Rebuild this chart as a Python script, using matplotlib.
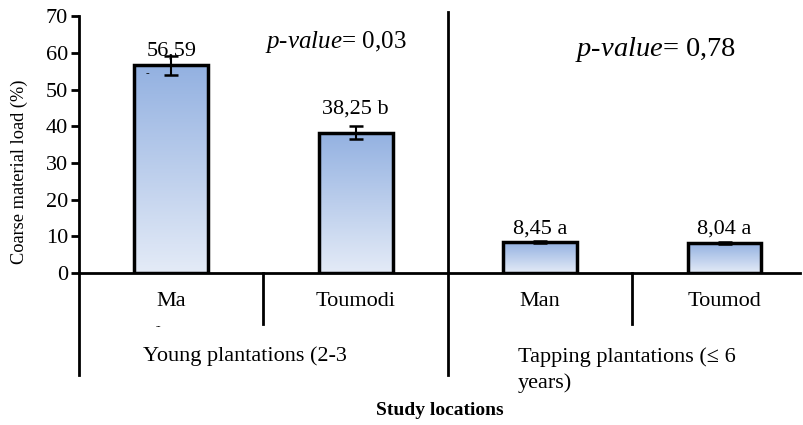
import matplotlib.pyplot as plt
import numpy as np
from matplotlib.colors import LinearSegmentedColormap

plt.rcParams['font.family'] = ['Liberation Serif', 'DejaVu Serif']
plt.rcParams['mathtext.fontset'] = 'custom'
plt.rcParams['mathtext.rm'] = 'Liberation Serif'
plt.rcParams['mathtext.it'] = 'Liberation Serif:italic'

sites = ["Ma", "Toumodi", "Man", "Toumod"]
load = [56.59, 38.25, 8.45, 8.04]
load_err = [2.6, 1.8, 0.3, 0.3]
bar_labels = ["56,59", "38,25 b", "8,45 a", "8,04 a"]
groups = ["Young plantations (2-3", "Tapping plantations (\u2264 6\nyears)"]
pvals = ["0,03", "0,78"]

fig = plt.figure(figsize=(8.04, 4.25), dpi=100)
ax = fig.add_axes([0.0983, 0.358, 0.897, 0.6035])

x = np.arange(len(sites))
w = 0.4
bars = ax.bar(x, load, width=w, color='none', edgecolor='black', linewidth=2.5, zorder=3)

# gradient fill inside bars
grad = np.linspace(0, 1, 256).reshape(-1, 1)
cmap = LinearSegmentedColormap.from_list("blu", ["#e4ebf7", "#93b1e1"])
for b in bars:
    bx = b.get_x()
    im = ax.imshow(grad, cmap=cmap, aspect='auto', origin='lower',
                   extent=[bx, bx + b.get_width(), 0, b.get_height()], zorder=2)
    im.set_clip_path(b)

ax.errorbar(x, load, yerr=load_err, fmt='none', ecolor='black', elinewidth=1.5,
            capsize=5, capthick=1.8, zorder=4)

lab_pad = [0.0, 3.4, 2.05, 2.45]
for i in range(len(sites)):
    ax.text(x[i], load[i] + load_err[i] + lab_pad[i], bar_labels[i],
            ha='center', va='baseline', fontsize=16)
# leftover mark from original
ax.text(x[0] - 0.13, load[0] - 1.0, "-", ha='center', va='top', fontsize=8)

ax.text(0.51, 61.5, r"$\mathit{p\text{-}value}$= " + pvals[0], fontsize=18,
        ha='left', va='baseline')
ax.text(2.19, 59.1, r"$\mathit{p\text{-}value}$= " + pvals[1], fontsize=20.5,
        ha='left', va='baseline')

ax.set_xlim(-0.5, 3.41)
ax.set_ylim(0, 70)
ax.set_yticks(range(0, 71, 10))
ax.tick_params(axis='y', direction='out', length=6, width=2, labelsize=16, pad=2)
ax.tick_params(axis='x', length=0, labelsize=16, pad=14)
ax.set_xticks(x)
ax.set_xticklabels(sites)
for s in ['top', 'right']:
    ax.spines[s].set_visible(False)
ax.spines['left'].set_linewidth(2)
ax.spines['bottom'].set_linewidth(2)
ax.set_ylabel("Coarse material load (%)", fontsize=13.2)
ax.yaxis.set_label_coords(-0.071, 0.392)

trans = ax.get_xaxis_transform()
# y axis goes on below zero, group divider, category ticks
ax.plot([-0.5, -0.5], [0, -0.4], color='black', lw=2, transform=trans, clip_on=False)
ax.plot([1.5, 1.5], [1.016, -0.4], color='black', lw=2, transform=trans, clip_on=False)
for xb in [0.5, 2.5]:
    ax.plot([xb, xb], [0, -0.2], color='black', lw=2, transform=trans, clip_on=False)
ax.text(-0.07, -0.21, "--", fontsize=6, ha='center', va='center', transform=trans)

ax.text(-0.155, -0.323, groups[0], fontsize=16, ha='left', va='center', transform=trans)
ax.text(1.88, -0.29, groups[1], fontsize=16, ha='left', va='top', transform=trans,
        linespacing=1.45)
fig.text(0.547, 0.035, "Study locations", fontsize=14, fontweight='bold',
         ha='center', va='center')

fig.savefig("out.png", dpi=100)
